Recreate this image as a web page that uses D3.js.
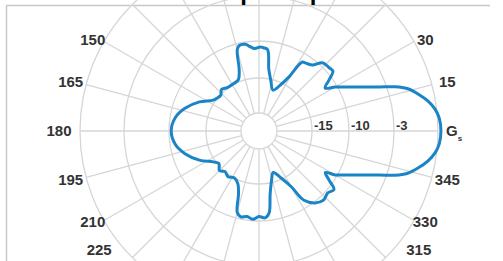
<!DOCTYPE html>
<html>
<head>
<meta charset="utf-8">
<script src="https://cdn.jsdelivr.net/npm/d3@7"></script>
<style>
  body { margin: 0; background: #fff; }
  svg { display: block; font-family: "Liberation Sans", Arial, sans-serif; }
</style>
</head>
<body>
<svg id="chart" width="503" height="261"></svg>
<script>
// measured pattern, angle in degrees (ccw from 0), gain in dB
var angles = [0,4,7,10,13,16,18,20,22,25,28,30,33,36,39,42,47,51,55,58,61,65,71,77,81,84,87,89,93,96,99,103,105,108,112,118,126,132,137,141,146,154,163,171,
  180,189,197,206,214,219,225,230,236,242,248,252,255,258,262,266,270,274,277,280,284,289,295,300,303,308,313,318,322,325,328,330,332,335,338,340,342,344,347,350,353,356];
var gainDb = [0.2,0.12,-0.1,-0.5,-1.05,-1.7,-2.45,-4.0,-5.7,-7.8,-9.4,-10.3,-11.5,-10.5,-9.2,-9.3,-9.5,-10.7,-11.0,-11.2,-13.8,-15.3,-16.4,-15.1,-13.7,-11.1,-10.9,-10.8,-11.0,-10.7,-10.3,-10.3,-10.8,-13.5,-14.7,-14.9,-14.9,-14.6,-15.1,-15.0,-14.7,-13.2,-11.7,-10.7,
  -10.3,-10.7,-11.7,-13.2,-14.7,-15.2,-14.6,-15.0,-14.7,-15.0,-14.5,-13.2,-10.8,-10.3,-10.5,-10.2,-10.6,-10.4,-11.0,-13.5,-15.2,-16.3,-15.2,-13.5,-11.0,-9.8,-9.3,-9.6,-9.2,-10.6,-11.6,-10.3,-9.4,-7.8,-5.7,-4.0,-2.45,-1.7,-1.05,-0.5,-0.1,0.12];

var ringLevels = [-20,-15,-10,-3,0];
var ringLabels = ["-15","-10","-3"];
var spokeAngles = d3.range(0, 360, 15);
var angleLabels = ["G","15","30","45","60","75","90","105","120","135","150","165","180","195","210","225","240","255","270","285","300","315","330","345"];
var shownLabels = [15,30,150,165,180,195,210,225,315,330,345];
var title = "Azimuth plane pattern";

var svg = d3.select("#chart");
var cx = 259, cy = 131;

var r = d3.scaleLinear().domain(ringLevels).range([18,53,90,135,179]);
var rad = function(deg) { return deg * Math.PI / 180; };

// label placement, by angle away from the horizontal axis
var labelRx = d3.scaleLinear().domain([0,15,30,45]).range([200,195,192,226]);
var labelRy = d3.scaleLinear().domain([0,15,30,45]).range([180,190,182,168]);
var offAxis = function(d) { return Math.abs(((d + 90) % 180) - 90); };

// frame
svg.append("path")
  .attr("d", "M6.5,261V5.5H490")
  .style("fill","none")
  .style("stroke","#c8c8c8")
  .style("stroke-width",1.5);

var g = svg.append("g").attr("transform","translate(" + cx + "," + cy + ")");

// rings
g.selectAll("circle.ring")
  .data(ringLevels.slice(1))
  .enter()
  .append("circle")
  .attr("class","ring")
  .attr("r", function(d) { return r(d); })
  .style("fill","none")
  .style("stroke","#d6d6d6")
  .style("stroke-width",1.3);

// spokes
g.selectAll("line.spoke")
  .data(spokeAngles)
  .enter()
  .append("line")
  .attr("x1", function(d) { return r(-20) * Math.cos(rad(d)); })
  .attr("y1", function(d) { return -r(-20) * Math.sin(rad(d)); })
  .attr("x2", function(d) { return r(0) * Math.cos(rad(d)); })
  .attr("y2", function(d) { return -r(0) * Math.sin(rad(d)); })
  .style("stroke","#d6d6d6")
  .style("stroke-width",1.3);

g.append("circle")
  .attr("r", r(-20))
  .style("fill","#fff")
  .style("stroke","#d6d6d6")
  .style("stroke-width",1.3);

// pattern
var pts = angles.map(function(a, i) { return [a, gainDb[i]]; });
var line = d3.lineRadial()
  .angle(function(d) { return Math.PI / 2 - rad(d[0]); })
  .radius(function(d) { return r(d[1]); })
  .curve(d3.curveCatmullRomClosed.alpha(0.5));

g.append("path")
  .datum(pts)
  .attr("d", line)
  .style("fill","none")
  .style("stroke","#1b84c6")
  .style("stroke-width",3);

// ring labels
g.selectAll("text.rl")
  .data(ringLabels)
  .enter()
  .append("text")
  .attr("x", function(d) { return r(+d) + 2; })
  .attr("y", -1)
  .text(function(d) { return d; })
  .style("font-size","13px")
  .style("font-weight","bold")
  .style("fill","#333");

// angle labels
g.selectAll("text.al")
  .data(shownLabels)
  .enter()
  .append("text")
  .attr("x", function(d) { return labelRx(offAxis(d)) * Math.cos(rad(d)); })
  .attr("y", function(d) { return -labelRy(offAxis(d)) * Math.sin(rad(d)) + 5; })
  .attr("text-anchor","middle")
  .text(function(d) { return angleLabels[d / 15]; })
  .style("font-size","15px")
  .style("font-weight","bold")
  .style("fill","#333");

var gs = g.append("text")
  .attr("x", 187)
  .attr("y", 5)
  .style("font-size","15px")
  .style("font-weight","bold")
  .style("fill","#333");
gs.append("tspan").text(angleLabels[0]);
gs.append("tspan").attr("dy", 5).style("font-size","8px").text("s");

// title (cropped at the top)
svg.append("text")
  .attr("x", 139)
  .attr("y", -0.5)
  .text(title)
  .style("font-size","24px")
  .style("font-weight","bold")
  .style("fill","#000");
</script>
</body>
</html>
